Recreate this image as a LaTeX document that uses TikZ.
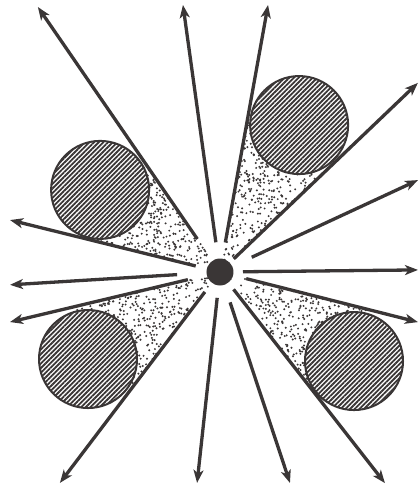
\documentclass[tikz,border=0pt]{standalone}
\usepackage{tikz}
\usetikzlibrary{arrows.meta,patterns.meta}
\definecolor{ink}{RGB}{58,54,54}

\begin{document}
\begin{tikzpicture}[x=1pt,y=1pt,>={Stealth[length=13pt,width=10pt,inset=3.5pt]},
  ray/.style={->,ink,line width=3.3pt},
  ball/.style={circle,minimum size=98pt,inner sep=0pt,draw=ink,line width=2pt,preaction={fill=white},
    pattern={Lines[angle=45,distance=3.3pt,line width=1.8pt]},pattern color=ink}]
\useasboundingbox (-220,-221) rectangle (199,272);
\pgfmathsetseed{42}
\foreach \a/\b/\l/\n in {124.5/166.1/135.7/340,43.7/79.8/158.6/400,-52/-14.2/152.3/390,193.4/232.8/149.3/390} {
  \foreach \k in {1,...,\n} {
    \pgfmathsetmacro\dang{\a+rnd*(\b-\a)}
    \pgfmathsetmacro\drad{\l*sqrt(rnd)}
    \fill[ink] (\dang:\drad) circle (1.1);
  }
}
\node[ball] (ul) at (145.6:145.3) {};
\node[ball] (ur) at (61.7:166.9) {};
\node[ball] (lr) at (-33.6:160.9) {};
\node[ball] (ll) at (213.4:158.1) {};
\node[circle,fill=ink,minimum size=27pt,inner sep=0pt] (src) at (0,0) {};
\foreach \a/\s/\e [count=\i] in {124.5/40/321.5,97.9/30/269.6,79.8/30/271.3,43.7/19/273.7,24.9/35/218.3,0.6/23/198,
    -14.2/27/204.2,-52/22/267.9,-71.65/32/222.3,263.8/26/212.2,232.8/25/264.8,193.4/33/215.9,183.5/43/210.4,166.1/25/216.3} {
  \coordinate (s\i) at (\a:\s);
  \coordinate (t\i) at (\a:\e);
  \draw[ray] (s\i) -- (t\i);
}
\end{tikzpicture}
\end{document}
